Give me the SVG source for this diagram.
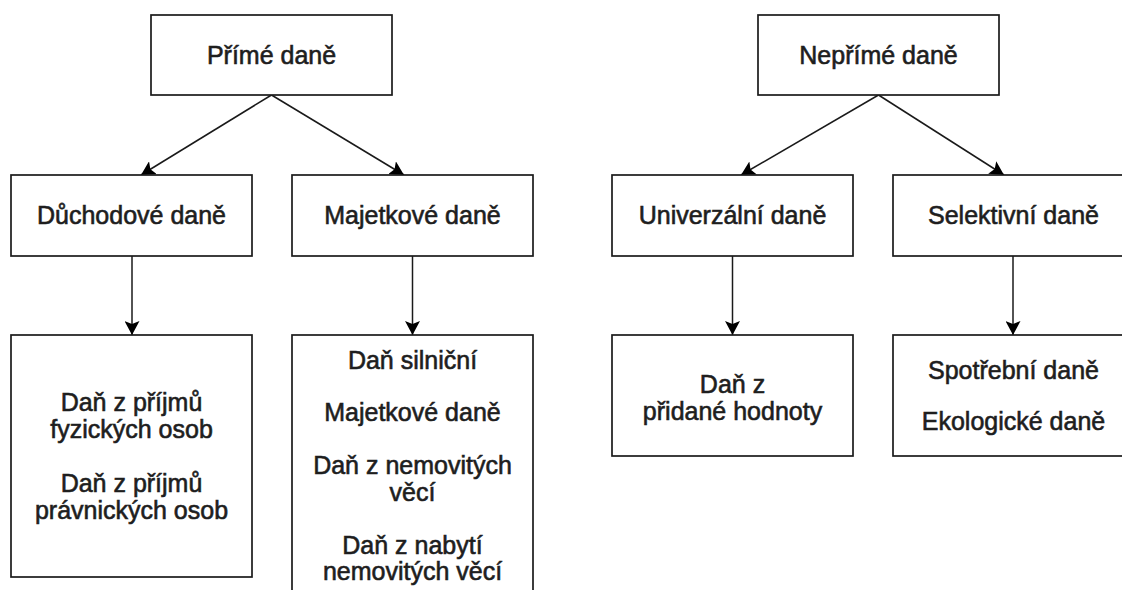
<svg xmlns="http://www.w3.org/2000/svg" width="1122" height="590" viewBox="0 0 1122 590">
<style>
.box{fill:#fff;stroke:#1a1a1a;stroke-width:1.7}
.t{font-family:"Liberation Sans",Arial,sans-serif;font-size:25px;fill:#1e1e1e;stroke:#1e1e1e;stroke-width:0.6;text-anchor:middle}
.c{fill:none;stroke:#1a1a1a;stroke-width:1.5}
</style>
<defs>
<marker id="ah" viewBox="0 0 14 15" refX="14" refY="7.5" markerWidth="14" markerHeight="15" markerUnits="userSpaceOnUse" orient="auto">
<path d="M0,0 L14,7.5 L0,15 L3,7.5 Z" fill="#000"/>
</marker>
</defs>
<rect width="1122" height="590" fill="#fff"/>
<g id="connectors">
<line class="c" x1="271.5" y1="95" x2="141" y2="175" marker-end="url(#ah)"/>
<line class="c" x1="271.5" y1="95" x2="404" y2="175" marker-end="url(#ah)"/>
<line class="c" x1="878.5" y1="95" x2="741" y2="175" marker-end="url(#ah)"/>
<line class="c" x1="878.5" y1="95" x2="1004" y2="175" marker-end="url(#ah)"/>
<line class="c" x1="132" y1="256" x2="132" y2="335" marker-end="url(#ah)"/>
<line class="c" x1="412.5" y1="256" x2="412.5" y2="335" marker-end="url(#ah)"/>
<line class="c" x1="732.5" y1="256" x2="732.5" y2="335" marker-end="url(#ah)"/>
<line class="c" x1="1013" y1="256" x2="1013" y2="335" marker-end="url(#ah)"/>
</g>
<g id="prime-dane">
<rect class="box" x="151" y="15" width="241" height="80"/>
<text class="t" x="271.5" y="64">Přímé daně</text>
</g>
<g id="neprime-dane">
<rect class="box" x="758" y="15" width="241" height="80"/>
<text class="t" x="878.5" y="64">Nepřímé daně</text>
</g>
<g id="duchodove-dane">
<rect class="box" x="11" y="175" width="241" height="81"/>
<text class="t" x="131.5" y="224">Důchodové daně</text>
</g>
<g id="majetkove-dane">
<rect class="box" x="292" y="175" width="241" height="81"/>
<text class="t" x="412.5" y="224">Majetkové daně</text>
</g>
<g id="univerzalni-dane">
<rect class="box" x="612" y="175" width="241" height="81"/>
<text class="t" x="732.5" y="224">Univerzální daně</text>
</g>
<g id="selektivni-dane">
<rect class="box" x="893" y="175" width="241" height="81"/>
<text class="t" x="1013.5" y="224">Selektivní daně</text>
</g>
<g id="dane-z-prijmu">
<rect class="box" x="11" y="335" width="241" height="242"/>
<text class="t" x="131.5" y="411">Daň z příjmů</text>
<text class="t" x="131.5" y="438">fyzických osob</text>
<text class="t" x="131.5" y="492">Daň z příjmů</text>
<text class="t" x="131.5" y="519">právnických osob</text>
</g>
<g id="majetkove-list">
<rect class="box" x="292" y="335" width="241" height="280"/>
<text class="t" x="412.5" y="369">Daň silniční</text>
<text class="t" x="412.5" y="421">Majetkové daně</text>
<text class="t" x="412.5" y="474">Daň z nemovitých</text>
<text class="t" x="412.5" y="501">věcí</text>
<text class="t" x="412.5" y="554">Daň z nabytí</text>
<text class="t" x="412.5" y="580">nemovitých věcí</text>
</g>
<g id="dph">
<rect class="box" x="612" y="335" width="241" height="121"/>
<text class="t" x="732.5" y="393">Daň z</text>
<text class="t" x="732.5" y="420">přidané hodnoty</text>
</g>
<g id="selektivni-list">
<rect class="box" x="893" y="335" width="241" height="121"/>
<text class="t" x="1013.5" y="379">Spotřební daně</text>
<text class="t" x="1013.5" y="430">Ekologické daně</text>
</g>
</svg>
